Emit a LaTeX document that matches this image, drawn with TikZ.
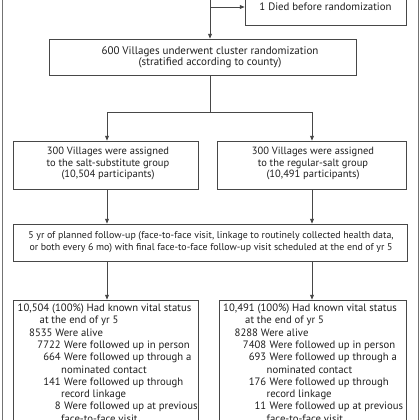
\documentclass[tikz,border=0pt]{standalone}
\usepackage{fontspec}
\setmainfont{PT Sans}
\usetikzlibrary{arrows.meta}
\begin{document}
\begin{tikzpicture}[x=1pt,y=-1pt,
  box/.style={draw=black!72, line width=0.75pt, fill=white, inner sep=0pt},
  txt/.style={font=\fontsize{11}{11.5}\selectfont, text=black!88, inner sep=0pt, align=center},
  txta/.style={txt, font=\fontsize{10.8}{11.5}\selectfont},
  txtb/.style={txt, font=\fontsize{10.5}{11.5}\selectfont},
  txtc/.style={txt, font=\fontsize{9.9}{12.2}\selectfont},
  ln/.style={font=\fontsize{10.7}{12}\selectfont, text=black!88, inner sep=0pt, anchor=base west},
  num/.style={ln, anchor=base east},
  arr/.style={draw=black!72, line width=0.75pt, -{Triangle[length=4.8pt,width=3.8pt]}},
  con/.style={draw=black!72, line width=0.75pt},
  frame/.style={draw=black!55, line width=1pt}]
\useasboundingbox (0,0) rectangle (420,420);
\clip (0,0) rectangle (420,420);
\fill[white] (0,0) rectangle (420,420);
% outer frame
\coordinate (fl1) at (2,-5); \coordinate (fl2) at (2,430);
\coordinate (fr1) at (418,-5); \coordinate (fr2) at (418,430);
\draw[frame] (fl1) -- (fl2);
\draw[frame] (fr1) -- (fr2);
% boxes
\node[box, minimum width=161, minimum height=50] (died) at (325.5,0) {};
\node[txta] (diedt) at (325.5,7) {1 Died before randomization};
\node[box, minimum width=307, minimum height=36] (b2) at (202.5,57) {};
\node[txt] (b2t) at (210,57.5) {600 Villages underwent cluster randomization\\(stratified according to county)};
\node[box, minimum width=185, minimum height=48] (b3l) at (105.5,165) {};
\node[txtb] (b3lt) at (108,163.5) {300 Villages were assigned\\to the salt-substitute group\\(10,504 participants)};
\node[box, minimum width=189, minimum height=48] (b3r) at (311.5,165) {};
\node[txtb] (b3rt) at (313,163.5) {300 Villages were assigned\\to the regular-salt group\\(10,491 participants)};
\node[box, minimum width=394, minimum height=37] (b4) at (210,242.5) {};
\node[txtc] (b4t) at (211,242) {5 yr of planned follow-up (face-to-face visit, linkage to routinely collected health data,\\or both every 6 mo) with final face-to-face follow-up visit scheduled at the end of yr 5};
\node[box, minimum width=185, minimum height=160] (b5l) at (105.5,380) {};
\node[box, minimum width=187, minimum height=160] (b5r) at (312.5,380) {};
% connectors
\coordinate (top) at (210,-5);
\coordinate (br) at (210,7);
\coordinate (mid) at (210,112);
\coordinate (xl) at (107,0);
\coordinate (xr) at (312,0);
\draw[arr] (top) -- (top |- b2.north);
\draw[arr] (br) -- (br -| died.west);
\draw[con] (b2.south -| mid) -- (mid);
\draw[con] (mid -| xl) -- (mid -| xr);
\draw[arr] (mid -| xl) -- (xl |- b3l.north);
\draw[arr] (mid -| xr) -- (xr |- b3r.north);
\draw[arr] (b3l.south -| xl) -- (xl |- b4.north);
\draw[arr] (b3r.south -| xr) -- (xr |- b4.north);
\draw[arr] (b4.south -| xl) -- (xl |- b5l.north);
\draw[arr] (b4.south -| xr) -- (xr |- b5r.north);
% left outcome box text
\begin{scope}[shift={(17.5,311.5)}]
\node[ln] (l1) at (0,0) {10,504 (100\%) Had known vital status};
\node[ln] (l2) at (22,12.3) {at the end of yr 5};
\node[ln] (l3) at (11.5,24.6) {8535 Were alive};
\node[num] (l4n) at (43.5,36.9) {7722};
\node[ln] (l4) at (46.5,36.9) {Were followed up in person};
\node[num] (l5n) at (43.5,49.2) {664};
\node[ln] (l5) at (46.5,49.2) {Were followed up through a};
\node[ln] (l6) at (43.5,61.5) {nominated contact};
\node[num] (l7n) at (43.5,73.8) {141};
\node[ln] (l7) at (46.5,73.8) {Were followed up through};
\node[ln] (l8) at (43.5,86.1) {record linkage};
\node[num] (l9n) at (43.5,98.4) {8};
\node[ln] (l9) at (46.5,98.4) {Were followed up at previous};
\node[ln] (l10) at (43.5,110.7) {face-to-face visit};
\end{scope}
% right outcome box text
\begin{scope}[shift={(223,311.5)}]
\node[ln] (r1) at (0,0) {10,491 (100\%) Had known vital status};
\node[ln] (r2) at (22,12.3) {at the end of yr 5};
\node[ln] (r3) at (11.5,24.6) {8288 Were alive};
\node[num] (r4n) at (43.5,36.9) {7408};
\node[ln] (r4) at (46.5,36.9) {Were followed up in person};
\node[num] (r5n) at (43.5,49.2) {693};
\node[ln] (r5) at (46.5,49.2) {Were followed up through a};
\node[ln] (r6) at (43.5,61.5) {nominated contact};
\node[num] (r7n) at (43.5,73.8) {176};
\node[ln] (r7) at (46.5,73.8) {Were followed up through};
\node[ln] (r8) at (43.5,86.1) {record linkage};
\node[num] (r9n) at (43.5,98.4) {11};
\node[ln] (r9) at (46.5,98.4) {Were followed up at previous};
\node[ln] (r10) at (43.5,110.7) {face-to-face visit};
\end{scope}
\end{tikzpicture}
\end{document}
